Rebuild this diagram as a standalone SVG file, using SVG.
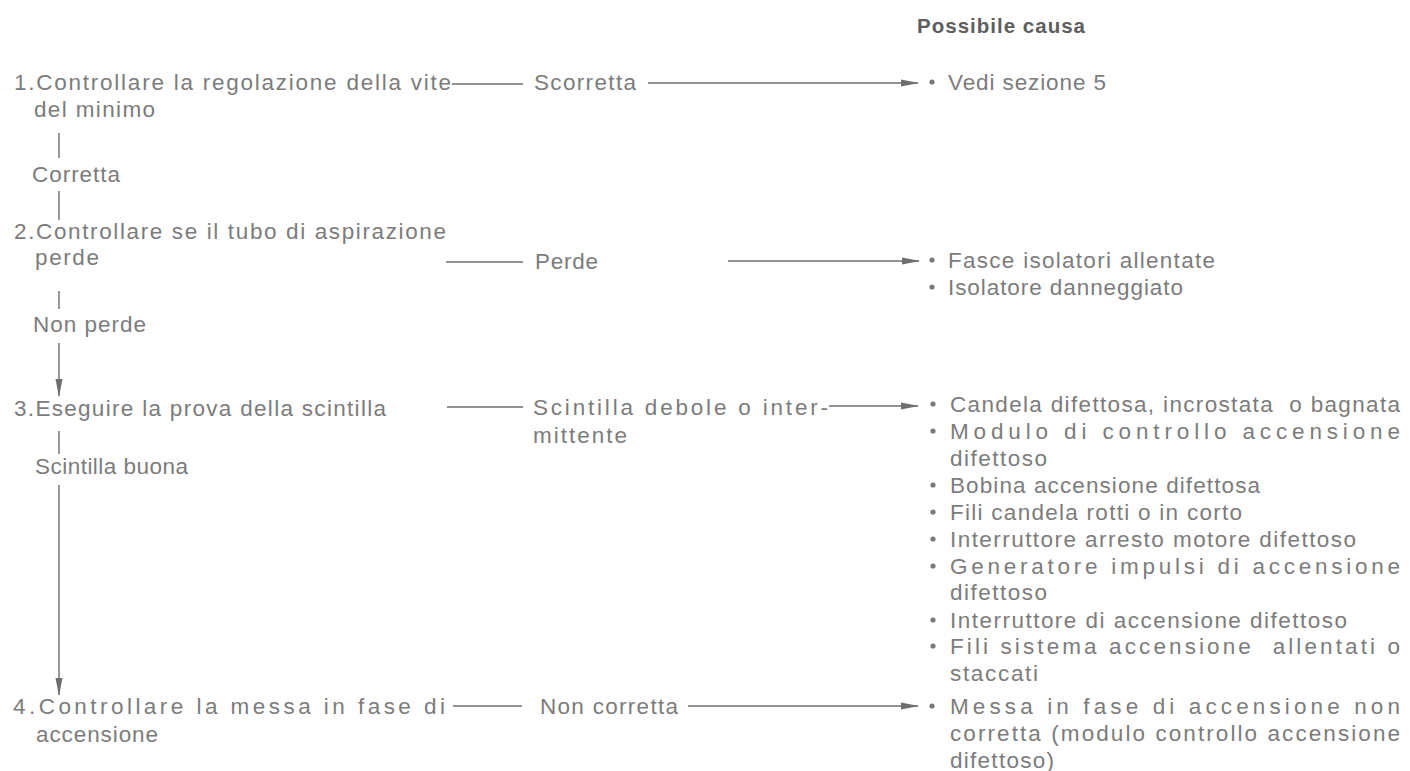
<svg xmlns="http://www.w3.org/2000/svg" width="1410" height="771" viewBox="0 0 1410 771">
<style>
text{font-family:"Liberation Sans",Arial,sans-serif;font-size:22.5px;fill:#7c7c7c}
.h{font-weight:bold;font-size:20.5px;fill:#5e5e5e}
.pre{white-space:pre}
.ln{stroke:#6e6e6e;stroke-width:1.4;fill:none}
.ar{stroke:#6e6e6e;stroke-width:1.4;fill:none;marker-end:url(#ah)}
.dot{fill:#7a7a7a}
</style>
<defs>
<marker id="ah" viewBox="0 0 18 10" refX="17" refY="5" markerWidth="18" markerHeight="10" markerUnits="userSpaceOnUse" orient="auto">
<path d="M0,1.5 L18,5 L0,8.5 Z" fill="#6e6e6e"/>
</marker>
</defs>
<rect width="1410" height="771" fill="#ffffff"/>
<g id="header"><text class="h" x="917" y="33" textLength="168" lengthAdjust="spacing">Possibile causa</text></g>

<g id="step1">
<text x="14" y="90" textLength="437" lengthAdjust="spacing">1.Controllare la regolazione della vite</text>
<text x="34" y="117" textLength="121" lengthAdjust="spacing">del minimo</text>
</g>
<g id="corretta"><text x="32" y="182" textLength="88" lengthAdjust="spacing">Corretta</text></g>
<g id="step2">
<text x="14" y="239" textLength="432" lengthAdjust="spacing">2.Controllare se il tubo di aspirazione</text>
<text x="35" y="265" textLength="64" lengthAdjust="spacing">perde</text>
</g>
<g id="nonperde"><text x="33" y="332" textLength="113" lengthAdjust="spacing">Non perde</text></g>
<g id="step3"><text x="14" y="416" textLength="372" lengthAdjust="spacing">3.Eseguire la prova della scintilla</text></g>
<g id="scintillabuona"><text x="35" y="474" textLength="153" lengthAdjust="spacing">Scintilla buona</text></g>
<g id="step4">
<text x="13" y="714" textLength="432" lengthAdjust="spacing">4.Controllare la messa in fase di</text>
<text x="36" y="742" textLength="122" lengthAdjust="spacing">accensione</text>
</g>

<g id="label-scorretta"><text x="534" y="90" textLength="102" lengthAdjust="spacing">Scorretta</text></g>
<g id="label-perde"><text x="535" y="269" textLength="63" lengthAdjust="spacing">Perde</text></g>
<g id="label-scintilla">
<text x="533" y="415" textLength="295" lengthAdjust="spacing">Scintilla debole o inter-</text>
<text x="533" y="443" textLength="94" lengthAdjust="spacing">mittente</text>
</g>
<g id="label-noncorretta"><text x="540" y="714" textLength="138" lengthAdjust="spacing">Non corretta</text></g>

<g id="cause1">
<circle class="dot" cx="932" cy="82" r="2.6"/>
<text x="948" y="90" textLength="158" lengthAdjust="spacing">Vedi sezione 5</text>
</g>
<g id="cause2">
<circle class="dot" cx="932" cy="260" r="2.6"/>
<text x="948" y="268" textLength="267" lengthAdjust="spacing">Fasce isolatori allentate</text>
<circle class="dot" cx="932" cy="287" r="2.6"/>
<text x="948" y="295" textLength="235" lengthAdjust="spacing">Isolatore danneggiato</text>
</g>
<g id="cause3">
<circle class="dot" cx="933" cy="404" r="2.6"/>
<text class="pre" x="950" y="412" textLength="450" lengthAdjust="spacing">Candela difettosa, incrostata  o bagnata</text>
<circle class="dot" cx="933" cy="431" r="2.6"/>
<text x="950" y="439" textLength="450" lengthAdjust="spacing">Modulo di controllo accensione</text>
<text x="950" y="466" textLength="97" lengthAdjust="spacing">difettoso</text>
<circle class="dot" cx="933" cy="485" r="2.6"/>
<text x="950" y="493" textLength="310" lengthAdjust="spacing">Bobina accensione difettosa</text>
<circle class="dot" cx="933" cy="512" r="2.6"/>
<text x="950" y="520" textLength="292" lengthAdjust="spacing">Fili candela rotti o in corto</text>
<circle class="dot" cx="933" cy="539" r="2.6"/>
<text x="950" y="547" textLength="406" lengthAdjust="spacing">Interruttore arresto motore difettoso</text>
<circle class="dot" cx="933" cy="566" r="2.6"/>
<text x="950" y="574" textLength="450" lengthAdjust="spacing">Generatore impulsi di accensione</text>
<text x="950" y="600" textLength="97" lengthAdjust="spacing">difettoso</text>
<circle class="dot" cx="933" cy="620" r="2.6"/>
<text x="950" y="628" textLength="397" lengthAdjust="spacing">Interruttore di accensione difettoso</text>
<circle class="dot" cx="933" cy="646" r="2.6"/>
<text class="pre" x="950" y="654" textLength="450" lengthAdjust="spacing">Fili sistema accensione  allentati o</text>
<text x="950" y="681" textLength="88" lengthAdjust="spacing">staccati</text>
</g>
<g id="cause4">
<circle class="dot" cx="932" cy="706" r="2.6"/>
<text x="950" y="714" textLength="450" lengthAdjust="spacing">Messa in fase di accensione non</text>
<text x="950" y="741" textLength="450" lengthAdjust="spacing">corretta (modulo controllo accensione</text>
<text x="950" y="768" textLength="104" lengthAdjust="spacing">difettoso)</text>
</g>

<g id="connectors">
<line class="ln" x1="452" y1="84" x2="523" y2="84"/>
<line class="ar" x1="648" y1="83" x2="918" y2="83"/>
<line class="ln" x1="59" y1="133" x2="59" y2="158"/>
<line class="ln" x1="59" y1="191" x2="59" y2="220"/>
<line class="ln" x1="446" y1="262" x2="523" y2="262"/>
<line class="ar" x1="728" y1="261" x2="919" y2="261"/>
<line class="ln" x1="59" y1="291" x2="59" y2="309"/>
<line class="ar" x1="59" y1="343" x2="59" y2="396"/>
<line class="ln" x1="447" y1="407" x2="523" y2="407"/>
<line class="ar" x1="829" y1="406" x2="918" y2="406"/>
<line class="ln" x1="59" y1="431" x2="59" y2="454"/>
<line class="ar" x1="59" y1="485" x2="59" y2="695"/>
<line class="ln" x1="453" y1="706" x2="522" y2="706"/>
<line class="ar" x1="688" y1="706" x2="918" y2="706"/>
</g>
</svg>
